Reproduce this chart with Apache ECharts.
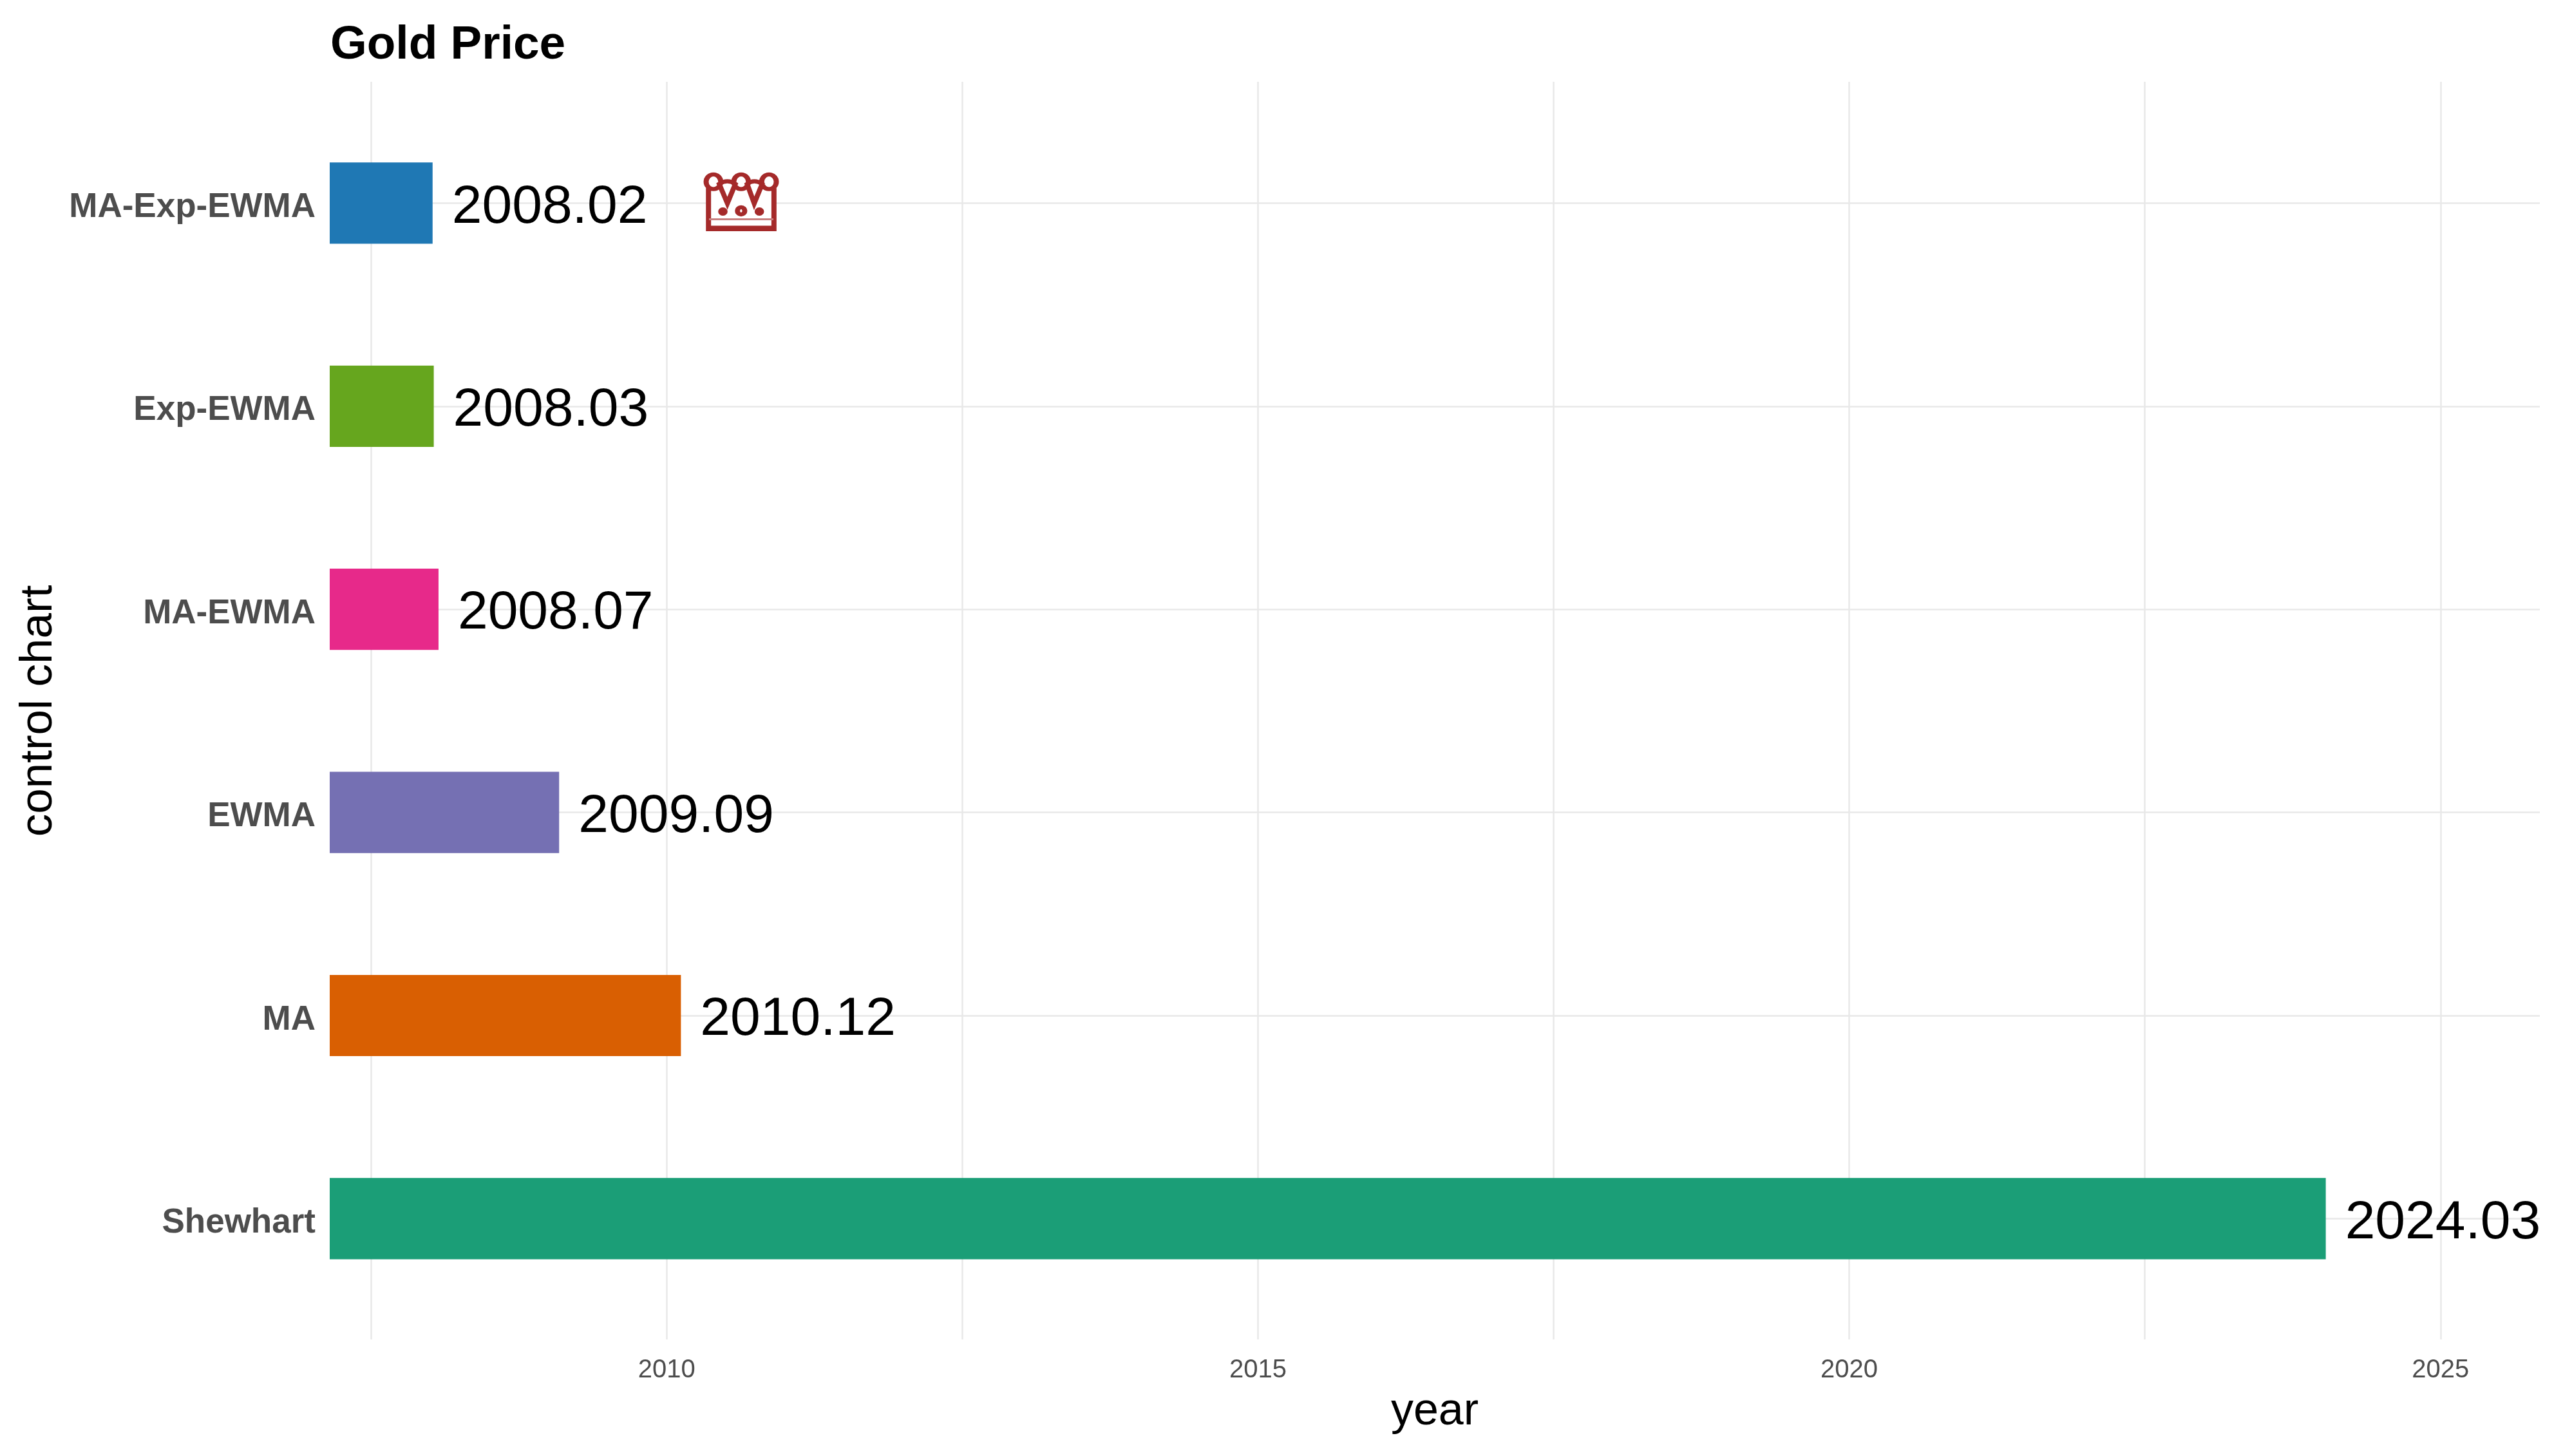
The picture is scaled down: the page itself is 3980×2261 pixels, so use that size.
<!DOCTYPE html>
<html>
<head>
<meta charset="utf-8">
<style>
    html, body { margin: 0; padding: 0; background: #fff; }
    #main { width: 3980px; height: 2261px; }
</style>
<script src="https://cdn.jsdelivr.net/npm/echarts@6/dist/echarts.min.js"></script>
</head>
<body>
<div id="main"></div>
<script>
// bottom to top, same order as the y axis
var categories = ['Shewhart', 'MA', 'EWMA', 'MA-EWMA', 'Exp-EWMA', 'MA-Exp-EWMA'];
var years = [2024.03, 2010.12, 2009.09, 2008.07, 2008.03, 2008.02];
var barColors = ['#1b9e77', '#d95f02', '#7570b3', '#e7298a', '#66a61e', '#1f78b4'];
var gridYears = [2007.5, 2010, 2012.5, 2015, 2017.5, 2020, 2022.5, 2025];
var tickLabels = [2010, 2015, 2020, 2025];
var crownPoint = [2010.63, 'MA-Exp-EWMA'];

var xMin = 2007.15;
var xMax = 2025.84;
var fontName = 'Liberation Sans';

var crownPath = 'path://' +
    'M289 185A34 34 0 1 1 357 185A34 34 0 1 1 289 185Z' +
    'M418 185A34 34 0 1 1 486 185A34 34 0 1 1 418 185Z' +
    'M548 185A34 34 0 1 1 616 185A34 34 0 1 1 548 185Z' +
    'M350 195L388 285L425 195Q388 170 350 195Z' +
    'M480 195L513 285L550 195Q513 170 480 195Z' +
    'M300 215L300 405L605 405L605 215' +
    'M300 398L605 398' +
    'M357 323A10 10 0 1 1 377 323A10 10 0 1 1 357 323Z' +
    'M435 320A17 17 0 1 1 469 320A17 17 0 1 1 435 320Z' +
    'M527 323A10 10 0 1 1 547 323A10 10 0 1 1 527 323Z';

var barData = [];
years.forEach(function (y, i) {
    barData.push({ value: y, itemStyle: { color: barColors[i] } });
});

var myCharts = echarts.init(document.getElementById('main'));
var option = {
    backgroundColor: '#ffffff',
    animation: false,
    textStyle: { fontFamily: fontName },
    title: {
        text: 'Gold Price',
        left: 513,
        top: 34,
        padding: 0,
        textStyle: { fontFamily: fontName, fontSize: 73, fontWeight: 'bold', color: '#000000' }
    },
    // grid 0 only holds the year axis, ggplot panel is a bit taller than the six bands
    grid: [
        { left: 512, width: 3432, top: 127, height: 1953, outerBoundsMode: 'none' },
        { left: 512, width: 3432, top: 157.7, height: 1892.4, outerBoundsMode: 'none' }
    ],
    xAxis: [
        {
            type: 'value',
            gridIndex: 0,
            min: xMin,
            max: xMax,
            name: 'year',
            nameLocation: 'middle',
            nameGap: 78,
            nameTextStyle: { fontFamily: fontName, fontSize: 70, color: '#000000' },
            axisLine: { show: false },
            axisTick: { show: false, customValues: gridYears },
            axisLabel: {
                customValues: tickLabels,
                margin: 28,
                fontFamily: fontName,
                fontSize: 40,
                color: '#4d4d4d',
                formatter: function (v) { return String(v); }
            },
            splitLine: { show: true, lineStyle: { color: '#e8e8e8', width: 2.5 } }
        },
        {
            type: 'value',
            gridIndex: 1,
            min: xMin,
            max: xMax,
            show: false,
            splitLine: { show: false }
        }
    ],
    yAxis: [
        {
            type: 'value',
            gridIndex: 0,
            min: 0,
            max: 1,
            show: false,
            splitLine: { show: false }
        },
        {
            type: 'category',
            gridIndex: 1,
            data: categories,
            name: 'control chart',
            nameLocation: 'middle',
            nameGap: 414,
            nameTextStyle: { fontFamily: fontName, fontSize: 71, color: '#000000' },
            axisLine: { show: false },
            axisTick: { show: false },
            axisLabel: {
                margin: 22,
                verticalAlign: 'top',
                lineHeight: 14,
                fontFamily: fontName,
                fontSize: 53,
                fontWeight: 'bold',
                color: '#4d4d4d'
            },
            splitLine: {
                show: true,
                alignWithLabel: true,
                lineStyle: { color: '#e8e8e8', width: 2.5 }
            }
        }
    ],
    series: [
        {
            type: 'bar',
            xAxisIndex: 1,
            yAxisIndex: 1,
            barWidth: '40%',
            clip: true,
            data: barData,
            label: {
                show: true,
                position: 'right',
                distance: 30,
                offset: [0, 7],
                fontFamily: fontName,
                fontSize: 84,
                color: '#000000',
                formatter: function (p) { return p.value.toFixed(2); }
            }
        },
        {
            type: 'scatter',
            xAxisIndex: 1,
            yAxisIndex: 1,
            symbol: crownPath,
            symbolSize: [109, 85],
            symbolOffset: [0, -2],
            z: 5,
            itemStyle: { color: '#ffffff', borderColor: '#a52a2a', borderWidth: 7, opacity: 1 },
            data: [crownPoint]
        },
        {
            type: 'scatter',
            xAxisIndex: 1,
            yAxisIndex: 1,
            symbol: 'rect',
            symbolSize: [100, 3],
            symbolOffset: [0, 25],
            z: 6,
            itemStyle: { color: '#c98080', opacity: 1 },
            data: [crownPoint]
        }
    ]
};
myCharts.setOption(option);
</script>
</body>
</html>
